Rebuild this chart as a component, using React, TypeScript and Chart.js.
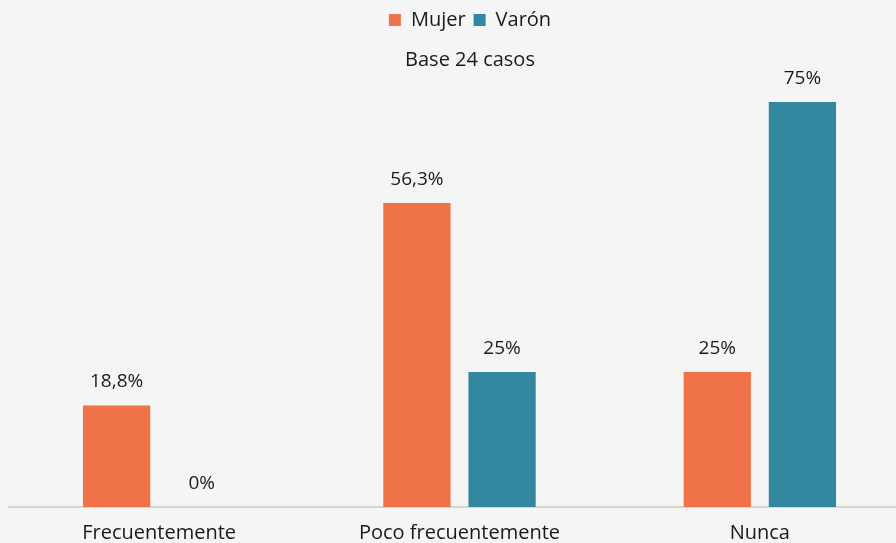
import React, { useEffect, useRef } from "react";
import { Chart, registerables } from "chart.js";

Chart.register(...registerables);

const categories = ["Frecuentemente", "Poco frecuentemente", "Nunca"];
const mujer = [18.8, 56.3, 25];
const varon = [0, 25, 75];
const seriesNames = ["Mujer", "Varón"];
const subtitleText = "Base 24 casos";

const FONT = "'Open Sans', 'Noto Sans', sans-serif";
const TEXT = "#1a1a1a";

const fmt = (v: number) => String(v).replace(".", ",") + "%";

const valueLabels = {
  id: "valueLabels",
  afterDatasetsDraw(chart: any) {
    const ctx = chart.ctx;
    ctx.save();
    ctx.font = `19px ${FONT}`;
    ctx.fillStyle = TEXT;
    ctx.textAlign = "center";
    ctx.textBaseline = "alphabetic";
    chart.data.datasets.forEach((ds: any, i: number) => {
      const meta = chart.getDatasetMeta(i);
      meta.data.forEach((el: any, j: number) => {
        ctx.fillText(fmt(ds.data[j]), el.x, el.y - 18);
      });
    });
    ctx.restore();
  },
};

export default function App() {
  const ref = useRef<HTMLCanvasElement | null>(null);
  useEffect(() => {
    if (!ref.current) return;
    const chart = new Chart(ref.current, {
      type: "bar",
      data: {
        labels: categories,
        datasets: [
          { label: seriesNames[0], data: mujer, backgroundColor: "#EF7249", categoryPercentage: 0.567, barPercentage: 0.79 },
          { label: seriesNames[1], data: varon, backgroundColor: "#33879F", categoryPercentage: 0.567, barPercentage: 0.79 },
        ],
      },
      options: {
        animation: false,
        responsive: false,
        maintainAspectRatio: false,
        layout: { padding: { left: 9, right: 9, top: 2, bottom: 4 } },
        plugins: {
          legend: {
            position: "top",
            labels: { boxWidth: 12, boxHeight: 12, font: { family: FONT, size: 20 }, color: TEXT, padding: 8 },
          },
          subtitle: {
            display: true,
            text: subtitleText,
            weight: 500,
            font: { family: FONT, size: 20, weight: "normal" },
            color: TEXT,
            padding: { top: 8, bottom: 10 },
          },
          tooltip: { enabled: false },
        },
        scales: {
          x: {
            grid: { display: false, drawTicks: false },
            border: { display: true, color: "#d6d6d6", width: 2 },
            ticks: { font: { family: FONT, size: 20 }, color: TEXT, padding: 14 },
          },
          y: {
            position: "right",
            min: 0,
            max: 80,
            display: true,
            grid: { display: false, drawTicks: false },
            border: { display: false },
            ticks: { display: false },
            afterFit: (s: any) => {
              s.width = 21;
            },
          },
        },
      },
      plugins: [valueLabels],
    });
    // calibrate: baseline at 507, 5.4 px per percent
    const ca = chart.chartArea;
    (chart.options.layout as any).padding.bottom += ca.bottom - 507;
    chart.update();
    const ca2 = chart.chartArea;
    (chart.options.scales as any).y.max = (ca2.bottom - ca2.top) / 5.4;
    chart.update();
    return () => chart.destroy();
  }, []);
  return (
    <div style={{ position: "absolute", left: 0, top: 0, width: 896, height: 543, overflow: "hidden", background: "#f5f5f5" }}>
      <canvas ref={ref} width={940} height={560} style={{ display: "block" }} />
    </div>
  );
}
